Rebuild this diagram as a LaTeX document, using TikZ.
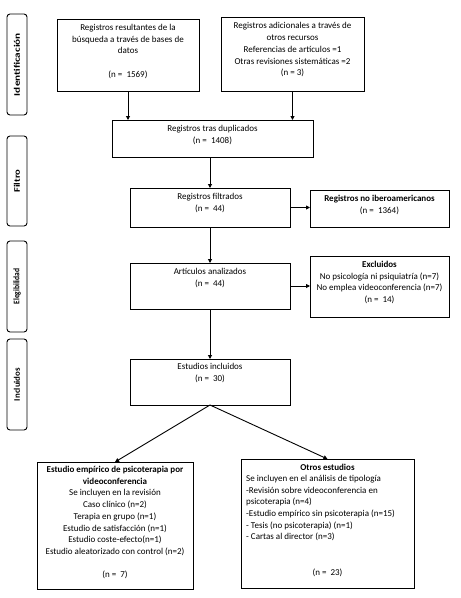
\documentclass[tikz,border=0pt]{standalone}
\usepackage{fontspec}
\setmainfont{Carlito}
\usepackage{graphicx}
\usetikzlibrary{arrows.meta}
\newcommand{\sidelab}[2]{\resizebox{#2}{\height}{\bfseries #1}}
\begin{document}
\begin{tikzpicture}[x=1pt,y=-1pt,
  font=\fontsize{9}{11.7}\selectfont,
  box/.style={draw=black,line width=0.9pt,inner sep=0pt,outer sep=0pt},
  txt/.style={inner sep=0pt,anchor=north,align=center},
  ltxt/.style={inner sep=0pt,anchor=north west,align=left},
  side/.style={draw=black,line width=0.9pt,rounded corners=3pt,inner sep=0pt,outer sep=0pt},
  sidetxt/.style={inner sep=0pt,rotate=90,font=\fontsize{8.5}{10}\selectfont},
  arr/.style={line width=0.9pt,-{Triangle[length=4pt,width=4pt]}}]
\useasboundingbox (0,0) rectangle (461,598);
% side boxes
\node[side,minimum width=20pt,minimum height=101pt] (s1) at (17,64.5) {};
\node[sidetxt] (s1t) at (s1.center) {\sidelab{Identificación}{63pt}};
\node[side,minimum width=20pt,minimum height=90pt] (s2) at (17,181) {};
\node[sidetxt] (s2t) at (s2.center) {\sidelab{Filtro}{23pt}};
\node[side,minimum width=20pt,minimum height=91pt] (s3) at (17,286.5) {};
\node[sidetxt] (s3t) at (s3.center) {\sidelab{Elegibilidad}{36pt}};
\node[side,minimum width=20pt,minimum height=91pt] (s4) at (17,384.5) {};
\node[sidetxt] (s4t) at (s4.center) {\sidelab{Incluidos}{33pt}};
% main boxes
\node[box,minimum width=142pt,minimum height=72pt] (A) at (128,55) {};
\node[txt] (At) at (128,24) {Registros resultantes de la\\búsqueda a través de bases de\\datos\\[11.7pt](n =~ 1569)};
\node[box,minimum width=143pt,minimum height=74pt] (B) at (292.5,54) {};
\node[txt] (Bt) at (292.5,22.5) {Registros adicionales a través de\\otros recursos\\Referencias de artículos =1\\Otras revisiones sistemáticas =2\\(n = 3)};
\node[box,minimum width=201pt,minimum height=37pt] (C) at (212.5,138.5) {};
\node[txt] (Ct) at (212.5,125) {Registros tras duplicados\\(n =~ 1408)};
\node[box,minimum width=160pt,minimum height=39pt] (D) at (210,207.5) {};
\node[txt] (Dt) at (210,193) {Registros filtrados\\(n =~ 44)};
\node[box,minimum width=139pt,minimum height=37pt] (E) at (379.5,208.5) {};
\node[txt] (Et) at (379.5,195) {\textbf{Registros no iberoamericanos}\\(n =~ 1364)};
\node[box,minimum width=160pt,minimum height=46pt] (F) at (210,286) {};
\node[txt] (Ft) at (210,268) {Artículos analizados\\(n =~ 44)};
\node[box,minimum width=139pt,minimum height=61pt] (G) at (379.5,286.5) {};
\node[txt] (Gt) at (379.5,261) {\textbf{Excluidos}\\No psicología ni psiquiatría (n=7)\\No emplea videoconferencia (n=7)\\(n =~ 14)};
\node[box,minimum width=160pt,minimum height=46pt] (H) at (210,382) {};
\node[txt] (Ht) at (210,363) {Estudios incluidos\\(n =~ 30)};
\node[box,minimum width=156pt,minimum height=127pt] (I) at (115,525.5) {};
\node[txt] (It) at (115,466) {\textbf{Estudio empírico de psicoterapia por}\\\textbf{videoconferencia}\\Se incluyen en la revisión\\Caso clínico (n=2)\\Terapia en grupo (n=1)\\Estudio de satisfacción (n=1)\\Estudio coste-efecto(n=1)\\Estudio aleatorizado con control (n=2)\\[11.7pt](n =~ 7)};
\node[box,minimum width=173pt,minimum height=129pt] (J) at (327.5,523.5) {};
\node[txt] (Jh) at (327.5,464) {\textbf{Otros estudios}};
\node[ltxt] (Jt) at (246,475) {Se incluyen en el análisis de tipología\\-Revisión sobre videoconferencia en\\psicoterapia (n=4)\\-Estudio empírico sin psicoterapia (n=15)\\- Tesis (no psicoterapia) (n=1)\\- Cartas al director (n=3)};
\node[txt] (Jn) at (327.5,569) {(n =~ 23)};
% arrows
\draw[arr] (A.south) -- (A.south |- C.north);
\draw[arr] (B.south) -- (B.south |- C.north);
\draw[arr] (C.south -| D.north) -- (D.north);
\draw[arr] (D.east) -- (E.west |- D.east);
\draw[arr] (D.south) -- (F.north);
\draw[arr] (F.east) -- (G.west |- F.east);
\draw[arr] (F.south) -- (H.north);
\draw[arr] (H.south) -- (I.north);
\draw[arr] (H.south) -- (J.north);
\end{tikzpicture}
\end{document}
